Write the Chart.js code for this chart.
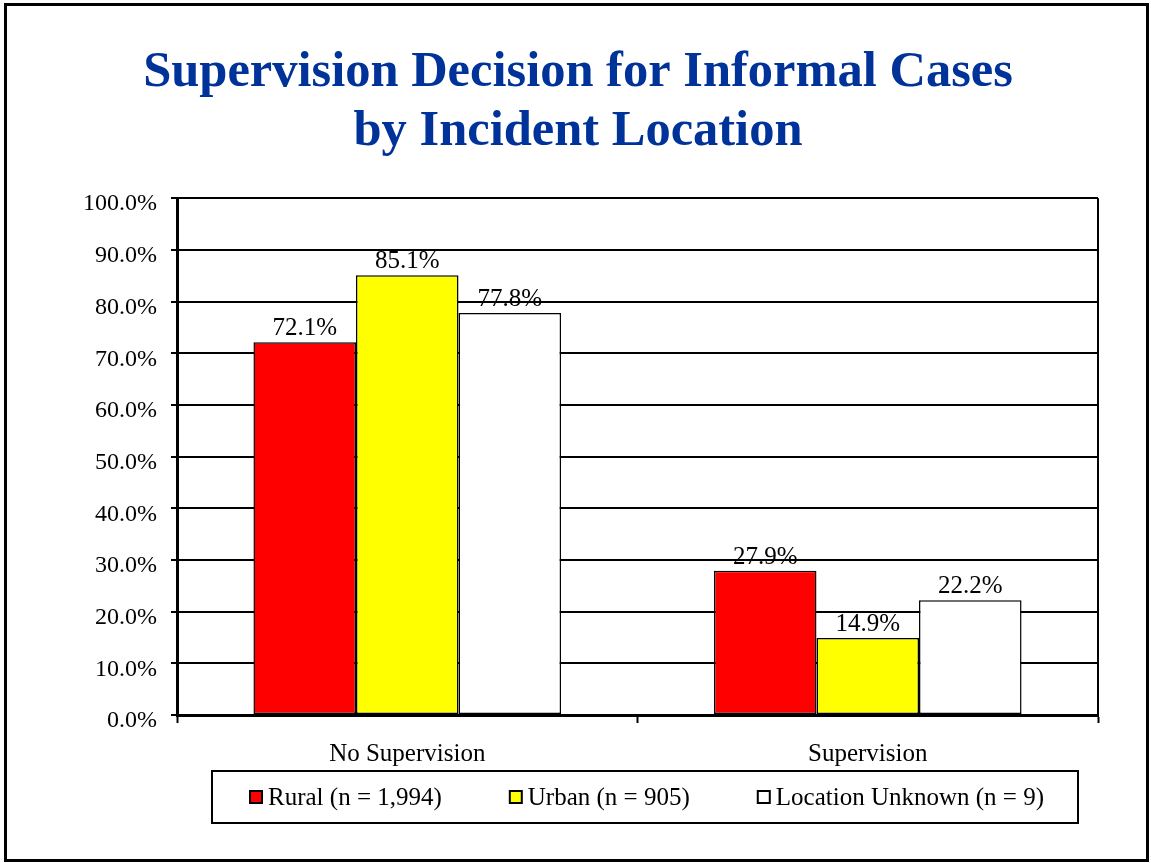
<!DOCTYPE html>
<html>
<head>
<meta charset="utf-8">
<script src="https://cdn.jsdelivr.net/npm/chart.js@4"></script>
<style>
  html, body { margin: 0; padding: 0; background: #fff; }
  canvas { display: block; }
</style>
</head>
<body>
<canvas id="chart" width="1151" height="863"></canvas>
<script>
// chart data
const categories = ['No Supervision', 'Supervision'];
const seriesNames = ['Rural (n = 1,994)', 'Urban (n = 905)', 'Location Unknown (n = 9)'];
const rural = [72.1, 27.9];
const urban = [85.1, 14.9];
const unknown = [77.8, 22.2];
const titleLines = ['Supervision Decision for Informal Cases', 'by Incident Location'];

const SERIF = '"Liberation Serif", "Times New Roman", serif';
const colors = ['#FF0000', '#FFFF00', '#FFFFFF'];

// white background + outer frame
const framePlugin = {
  id: 'frame',
  beforeDraw(chart) {
    const ctx = chart.ctx;
    ctx.save();
    ctx.fillStyle = '#fff';
    ctx.fillRect(0, 0, chart.width, chart.height);
    ctx.restore();
  },
  afterDraw(chart) {
    const ctx = chart.ctx;
    const a = chart.chartArea;
    ctx.save();
    ctx.strokeStyle = '#000';
    // right side of plot area
    ctx.lineWidth = 2;
    ctx.beginPath();
    ctx.moveTo(a.right, a.top);
    ctx.lineTo(a.right, a.bottom);
    ctx.stroke();
    // outer border
    ctx.lineWidth = 3;
    ctx.strokeRect(5.5, 4.5, 1142, 856);
    ctx.restore();
  }
};

// value labels above the bars
const valueLabels = {
  id: 'valueLabels',
  afterDatasetsDraw(chart) {
    const ctx = chart.ctx;
    ctx.save();
    ctx.font = '25px ' + SERIF;
    ctx.fillStyle = '#000';
    ctx.textAlign = 'center';
    ctx.textBaseline = 'alphabetic';
    chart.data.datasets.forEach((ds, i) => {
      chart.getDatasetMeta(i).data.forEach((bar, j) => {
        ctx.fillText(ds.data[j].toFixed(1) + '%', bar.x, bar.y - 7);
      });
    });
    ctx.restore();
  }
};

// boxed legend under the axis
const boxLegend = {
  id: 'boxLegend',
  afterDraw(chart) {
    const ctx = chart.ctx;
    const box = { left: 212, top: 771, right: 1078, bottom: 823 };
    ctx.save();
    ctx.strokeStyle = '#000';
    ctx.lineWidth = 2;
    ctx.strokeRect(box.left, box.top, box.right - box.left, box.bottom - box.top);

    ctx.font = '25px ' + SERIF;
    const sq = 12, gapText = 6, gapItem = 68;
    const items = chart.data.datasets.map(ds => ({
      label: ds.label,
      color: ds.backgroundColor,
      w: sq + gapText + ctx.measureText(ds.label).width
    }));
    const total = items.reduce((s, it) => s + it.w, 0) + gapItem * (items.length - 1);
    let x = (box.left + box.right) / 2 - total / 2 + 2;
    const cy = 797;
    items.forEach(it => {
      ctx.fillStyle = it.color;
      ctx.fillRect(x, cy - sq / 2, sq, sq);
      ctx.lineWidth = 2;
      ctx.strokeStyle = '#000';
      ctx.strokeRect(x, cy - sq / 2, sq, sq);
      ctx.fillStyle = '#000';
      ctx.textAlign = 'left';
      ctx.textBaseline = 'middle';
      ctx.fillText(it.label, x + sq + gapText, cy + 1);
      x += it.w + gapItem;
    });
    ctx.restore();
  }
};

const seriesData = [rural, urban, unknown];

new Chart(document.getElementById('chart'), {
  type: 'bar',
  data: {
    labels: categories,
    datasets: seriesNames.map((name, i) => ({
      label: name,
      data: seriesData[i],
      backgroundColor: colors[i],
      borderColor: '#000',
      borderWidth: 1.5,
      borderSkipped: false,
      categoryPercentage: 0.668,
      barPercentage: 1.0
    }))
  },
  options: {
    responsive: false,
    animation: false,
    layout: { padding: { left: 58, right: 53, top: 0, bottom: 88 } },
    plugins: {
      legend: { display: false },
      tooltip: { enabled: false },
      title: {
        display: true,
        text: titleLines,
        color: '#003399',
        font: { family: SERIF, size: 50.5, weight: 'bold', lineHeight: 1.16 },
        padding: { top: 44, bottom: 37 }
      }
    },
    scales: {
      x: {
        afterFit(scale) { scale.height = 60; },
        grid: {
          display: true,
          drawOnChartArea: false,
          drawTicks: true,
          tickLength: 8,
          tickColor: '#000',
          tickWidth: 2,
          offset: true
        },
        border: { display: true, color: '#000', width: 3 },
        ticks: {
          color: '#000',
          font: { family: SERIF, size: 25 },
          padding: 16
        }
      },
      y: {
        min: 0,
        max: 100,
        afterFit(scale) { scale.width = 119; },
        grid: {
          color: '#000',
          lineWidth: 2,
          drawTicks: true,
          tickLength: 6,
          tickColor: '#000',
          tickWidth: 2
        },
        border: { display: true, color: '#000', width: 3 },
        ticks: {
          stepSize: 10,
          color: '#000',
          font: { family: SERIF, size: 24 },
          padding: 14,
          labelOffset: 6,
          callback: v => v.toFixed(1) + '%'
        }
      }
    }
  },
  plugins: [framePlugin, valueLabels, boxLegend]
});
</script>
</body>
</html>
